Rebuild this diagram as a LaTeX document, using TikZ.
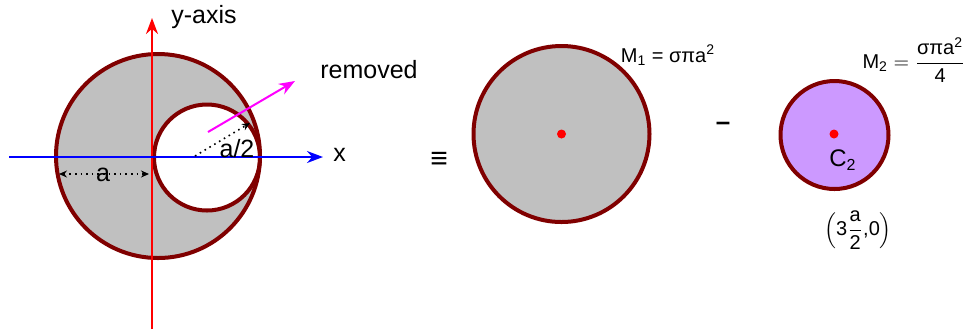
\documentclass[tikz,border=0pt]{standalone}
\usepackage{amsmath}
\usepackage{fontspec}
\setmainfont{Liberation Sans}
\usepackage{xcolor}
\usepackage{tikz}
\usetikzlibrary{arrows.meta}
\definecolor{rim}{HTML}{800000}
\definecolor{disc}{HTML}{C0C0C0}
\definecolor{lilac}{HTML}{CC99FF}
\definecolor{pink}{HTML}{FF00FF}

\begin{document}
\begin{tikzpicture}[x=0.5pt,y=-0.5pt,
  rimline/.style={draw=rim,line width=2pt},
  axis/.style={line width=1pt,-{Stealth[length=8pt,width=6pt]}},
  dimline/.style={line width=0.8pt,dotted},
  dot/.style={circle,fill=red,inner sep=0pt,minimum size=4.5pt},
  lbl/.style={font=\fontsize{12.5}{14}\selectfont,inner sep=0pt}]
\useasboundingbox (0,0) rectangle (964,329);
% body with hole
\fill[disc] (158,156) circle [radius=102];
\fill[white] (207,157.5) circle [radius=53];
\draw[rimline] (158,156) circle [radius=102];
\draw[rimline] (207,157.5) circle [radius=53];
\coordinate (O) at (152,157);
\coordinate (yb) at (152,329);
\coordinate (yt) at (152,18);
\coordinate (xa) at (9,157);
\coordinate (xt) at (323,157);
\node[lbl,anchor=west] (xlbl) at (333,155) {x};
\node[lbl] (ylbl) at (204,17) {y-axis};
\draw[red,axis] (yb) -- (yt);
\draw[blue,axis] (xa) -- (xt);
% radii
\coordinate (c2) at (195,156);
\coordinate (r2) at (250,123);
\draw[dimline,-{Stealth[length=4pt,width=3.5pt]}] (c2) -- (r2);
\node[lbl] (half) at (237,149) {a/2};
\draw[dimline,{Stealth[length=4pt,width=3.5pt]}-{Stealth[length=4pt,width=3.5pt]}] (59,174) -- (149,174);
\node[lbl] (arad) at (103,175) {a};
\node[lbl] (rem) at (369,70) {removed};
\draw[pink,line width=1pt,-{Stealth[length=8pt,width=6pt]}] (208,132) -- (295,81);
\node[font=\fontsize{15}{15}\selectfont\bfseries] (eqv) at (439,160) {≡};
% full disc
\fill[disc] (561.5,134) circle [radius=88];
\draw[rimline] (561.5,134) circle [radius=88];
\node[dot] (c1) at (561.5,134) {};
\node[font=\fontsize{10}{12}\selectfont] (m1) at (668,55) {M\textsubscript{1} = σπa\textsuperscript{2}};
\node[lbl,font=\fontsize{13}{14}\selectfont\bfseries] (minus) at (723,126) {–};
% removed disc
\fill[lilac] (834.5,135) circle [radius=54];
\draw[rimline] (834.5,135) circle [radius=54];
\node[dot] (cc2) at (834,134) {};
\node[font=\fontsize{12}{14}\selectfont,inner sep=0pt] (c2lbl) at (843,160) {C\textsubscript{2}};
\node[font=\fontsize{10}{12}\selectfont] (m2) at (914,60)
  {$\text{M}_{\text{2}} = \dfrac{\text{σπa}^{\text{2}}}{\text{4}}$};
\node[font=\fontsize{10}{12}\selectfont] (pos) at (858,230)
  {$\left(\text{3}\dfrac{\text{a}}{\text{2}}\text{,0}\right)$};
\end{tikzpicture}
\end{document}
